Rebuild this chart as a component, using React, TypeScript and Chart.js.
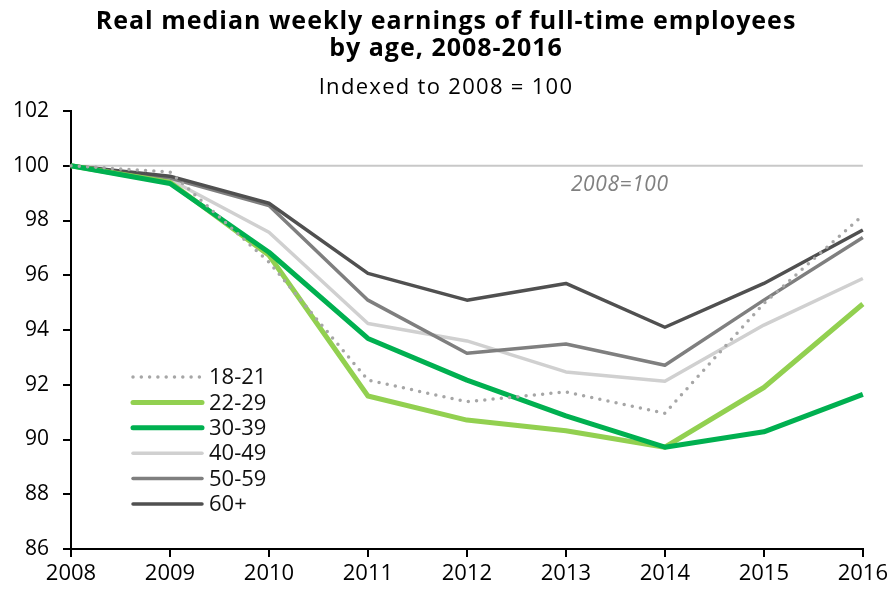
import React, { useEffect, useRef } from "react";
import { Chart, registerables } from "chart.js";

Chart.register(...registerables);

const years = ["2008", "2009", "2010", "2011", "2012", "2013", "2014", "2015", "2016"];
const yTicks = [86, 88, 90, 92, 94, 96, 98, 100, 102];
const titleLines = ["Real median weekly earnings of full-time employees", "by age, 2008-2016"];
const subtitle = "Indexed to 2008 = 100";
const refLabel = "2008=100";
const refValue = 100;

const s1821 = [100, 99.77, 96.48, 92.17, 91.38, 91.74, 90.96, 94.97, 98.19];
const s2229 = [100, 99.4, 96.73, 91.59, 90.71, 90.32, 89.72, 91.9, 94.95];
const s3039 = [100, 99.35, 96.84, 93.69, 92.17, 90.86, 89.72, 90.28, 91.65];
const s4049 = [100, 99.5, 97.57, 94.24, 93.6, 92.47, 92.13, 94.18, 95.88];
const s5059 = [100, 99.55, 98.55, 95.09, 93.15, 93.49, 92.71, 95.09, 97.38];
const s60 = [100, 99.62, 98.63, 96.07, 95.09, 95.7, 94.1, 95.7, 97.65];

const FONT = "'Open Sans', 'Noto Sans', sans-serif";

const overlayPlugin = {
  id: "overlay",
  beforeDatasetsDraw(chart: any) {
    const { ctx, chartArea, scales } = chart;
    const y = scales.y.getPixelForValue(refValue);
    ctx.save();
    ctx.strokeStyle = "#C8C8C8";
    ctx.lineWidth = 2;
    ctx.beginPath();
    ctx.moveTo(chartArea.left, y);
    ctx.lineTo(chartArea.right, y);
    ctx.stroke();
    ctx.fillStyle = "#808080";
    ctx.font = `italic 21px ${FONT}`;
    (ctx as any).letterSpacing = "0.6px";
    ctx.textAlign = "left";
    ctx.textBaseline = "middle";
    ctx.fillText(refLabel, scales.x.getPixelForValue(5) + 5, y + 19);
    ctx.restore();
  },
  afterDraw(chart: any) {
    const { ctx } = chart;
    ctx.save();
    ctx.fillStyle = "#000";
    ctx.textAlign = "center";
    ctx.textBaseline = "middle";
    ctx.font = `bold 25px ${FONT}`;
    (ctx as any).letterSpacing = "1px";
    ctx.fillText(titleLines[0], 446, 22);
    ctx.fillText(titleLines[1], 446, 49);
    ctx.font = `22px ${FONT}`;
    (ctx as any).letterSpacing = "1.3px";
    ctx.fillText(subtitle, 446, 88);
    (ctx as any).letterSpacing = "0px";
    // legend
    const x0 = 133;
    const x1 = 202;
    let yy = 377;
    chart.data.datasets.forEach((ds: any) => {
      ctx.save();
      ctx.strokeStyle = ds.borderColor;
      ctx.lineWidth = ds.borderWidth;
      ctx.lineCap = "round";
      ctx.setLineDash(ds.borderDash || []);
      ctx.beginPath();
      ctx.moveTo(x0, yy);
      ctx.lineTo(x1, yy);
      ctx.stroke();
      ctx.restore();
      ctx.fillStyle = "#111";
      ctx.textAlign = "left";
      ctx.font = `22px ${FONT}`;
      ctx.fillText(ds.label, 209, yy + 1);
      yy += 25.4;
    });
    ctx.restore();
  },
};

export default function App() {
  const ref = useRef<HTMLCanvasElement>(null);
  useEffect(() => {
    document.body.style.margin = "0";
    const mk = (label: string, data: number[], color: string, width: number, order: number, dash?: number[]) => ({
      label,
      data,
      borderColor: color,
      backgroundColor: color,
      borderWidth: width,
      borderDash: dash,
      borderCapStyle: dash ? "round" : "butt",
      borderJoinStyle: "round",
      pointRadius: 0,
      tension: 0,
      fill: false,
      order,
    });
    const chart = new Chart(ref.current!, {
      type: "line",
      data: {
        labels: years,
        datasets: [
          mk("18-21", s1821, "#A6A6A6", 3.5, 0, [0, 8.3]),
          mk("22-29", s2229, "#92D050", 5, 2),
          mk("30-39", s3039, "#00B050", 5, 1),
          mk("40-49", s4049, "#D0D0D0", 3.5, 5),
          mk("50-59", s5059, "#7F7F7F", 3.5, 4),
          mk("60+", s60, "#505050", 3.5, 3),
        ] as any,
      },
      options: {
        responsive: false,
        animation: false,
        layout: { padding: { top: 111, right: 27, left: 0, bottom: 0 } },
        plugins: { legend: { display: false }, title: { display: false }, tooltip: { enabled: false } },
        scales: {
          x: {
            type: "category",
            offset: false,
            afterFit: (s: any) => { s.height = 43; },
            grid: { display: true, drawOnChartArea: false, drawTicks: true, tickLength: 8, color: "#000", lineWidth: 2 },
            border: { display: true, color: "#000", width: 2 },
            ticks: { color: "#000", font: { family: FONT, size: 22 }, padding: 4, maxRotation: 0 },
          },
          y: {
            min: 86,
            max: 102,
            afterFit: (s: any) => { s.width = 71; },
            afterBuildTicks: (s: any) => { s.ticks = yTicks.map((v) => ({ value: v })); },
            grid: { display: true, drawOnChartArea: false, drawTicks: true, tickLength: 8, color: "#000", lineWidth: 2 },
            border: { display: true, color: "#000", width: 2 },
            ticks: { color: "#000", font: { family: FONT, size: 21 }, padding: 14 },
          },
        },
      },
      plugins: [overlayPlugin],
    });
    return () => chart.destroy();
  }, []);
  return (
    <div style={{ position: "absolute", left: 0, top: 0, width: 892, height: 592 }}>
      <canvas ref={ref} width={892} height={592} />
    </div>
  );
}
